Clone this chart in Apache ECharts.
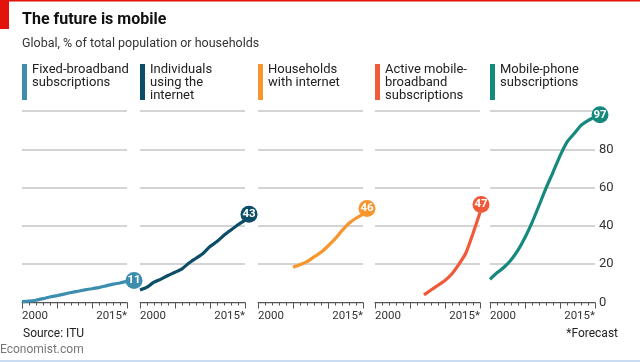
<!DOCTYPE html>
<html><head><meta charset="utf-8">
<script src="https://cdn.jsdelivr.net/npm/echarts@6/dist/echarts.min.js"></script>
<style>html,body{margin:0;padding:0;background:#fff}#c{width:640px;height:362px}</style>
</head><body><div id="c"></div>
<script>
const years = [2000,2001,2002,2003,2004,2005,2006,2007,2008,2009,2010,2011,2012,2013,2014,2015];
const fixedBroadband = [0.5,0.7,1.2,2.0,2.9,3.6,4.4,5.2,5.9,6.6,7.2,7.8,8.7,9.6,10.2,11];
const internetUsers = [6.5,8.0,10.6,12.2,14.1,15.8,17.6,20.6,23.1,25.6,29.2,31.8,35.1,37.9,40.6,43];
const householdsInternet = [null,null,null,null,null,18.4,19.7,21.3,23.8,26.2,29.5,33.2,37.5,41.4,44.0,46];
const mobileBroadband = [null,null,null,null,null,null,null,4,6.5,9,11.5,15,20,26,36,47];
const mobilePhone = [12.1,15.5,18.4,22.2,27.3,33.9,41.7,50.6,59.7,68,76.6,83.8,88.1,92.5,95,97];
const panelNames = [['Fixed-broadband','subscriptions'],['Individuals','using the','internet'],['Households','with internet'],['Active mobile-','broadband','subscriptions'],['Mobile-phone','subscriptions']];
const yTicks = [0,20,40,60,80,100];
const xTickLabels = {2000:'2000',2015:'2015*'};

const seriesData = [fixedBroadband, internetUsers, householdsInternet, mobileBroadband, mobilePhone];
const colors = ['#3d8eae','#0c4d68','#f7962d','#f15a38','#16897e'];
const lefts = [22,140,258,375,490];
const pw = 105;
const bubbleOffsets = [[7,-1],[4,-6],[4,-6],[1,-8],[5,-2]];
const FONT = 'Roboto';

const grids=[], xAxes=[], yAxes=[], series=[], graphics=[];
lefts.forEach((l,i)=>{
  grids.push({left:l, width:pw, top:111, bottom:59.5});
  xAxes.push({type:'value', gridIndex:i, min:years[0], max:years[years.length-1], interval:5,
    axisLine:{show:true, lineStyle:{color:'#555', width:1}},
    axisTick:{show:true, length:6, lineStyle:{color:'#555'}},
    minorTick:{show:true, splitNumber:5, length:3, lineStyle:{color:'#555'}},
    splitLine:{show:false},
    axisLabel:{show:true, margin:8, fontFamily:FONT, fontSize:11.5, color:'#333',
      alignMinLabel:'left', alignMaxLabel:'right',
      formatter:v=>xTickLabels[v]||''}});
  yAxes.push({type:'value', gridIndex:i, min:yTicks[0], max:yTicks[yTicks.length-1], interval:20,
    position:'right',
    axisLine:{show:false}, axisTick:{show:false},
    splitLine:{show:true, lineStyle:{color:'#c6c6c6', width:1.5}},
    axisLabel:{show:i===4, margin:4, fontFamily:FONT, fontSize:13, color:'#333',
      formatter:v=>v===100?'':String(v)}});
  const d = years.map((y,k)=>[y, seriesData[i][k]]).filter(p=>p[1]!==null);
  series.push({type:'line', xAxisIndex:i, yAxisIndex:i, data:d, symbol:'none', smooth:0.2,
    lineStyle:{color:colors[i], width:3.2}, clip:false, z:3});
  const last = d[d.length-1];
  series.push({type:'scatter', xAxisIndex:i, yAxisIndex:i, data:[last], symbol:'circle', symbolSize:17,
    symbolOffset:bubbleOffsets[i], clip:false, z:5,
    itemStyle:{color:colors[i], opacity:1},
    label:{show:true, position:'inside', color:'#fff', fontFamily:FONT, fontWeight:'bold', fontSize:11.5,
      formatter:p=>String(Math.round(p.value[1]))}});
  graphics.push({type:'rect', shape:{x:l, y:64, width:5, height:36}, style:{fill:colors[i]}});
  graphics.push({type:'text', left:l+10, top:63, style:{text:panelNames[i].join('\n'), fontFamily:FONT, fontSize:13, lineHeight:13, fill:'#222'}});
});

graphics.push({type:'rect', shape:{x:0,y:0,width:640,height:1.5}, style:{fill:'#e3120b'}});
graphics.push({type:'rect', shape:{x:0,y:0,width:9,height:29}, style:{fill:'#e3120b'}});
graphics.push({type:'text', left:22, top:12, style:{text:'The future is mobile', fontFamily:FONT, fontWeight:'bold', fontSize:16, fill:'#111'}});
graphics.push({type:'text', left:22, top:37, style:{text:'Global, % of total population or households', fontFamily:FONT, fontSize:12.5, fill:'#333'}});
graphics.push({type:'text', left:23, top:328, style:{text:'Source: ITU', fontFamily:FONT, fontSize:12, fill:'#222'}});
graphics.push({type:'text', left:0, top:344, style:{text:'Economist.com', fontFamily:FONT, fontSize:12, fill:'#777'}});
graphics.push({type:'text', right:22, top:328, style:{text:'*Forecast', fontFamily:FONT, fontSize:12, fill:'#222'}});
graphics.push({type:'rect', shape:{x:0,y:360,width:640,height:2}, style:{fill:'#c9dcf0'}});

const chart = echarts.init(document.getElementById('c'), null, {renderer:'canvas'});
chart.setOption({animation:false, backgroundColor:'#fff', grid:grids, xAxis:xAxes, yAxis:yAxes, series:series, graphic:graphics});
</script></body></html>
